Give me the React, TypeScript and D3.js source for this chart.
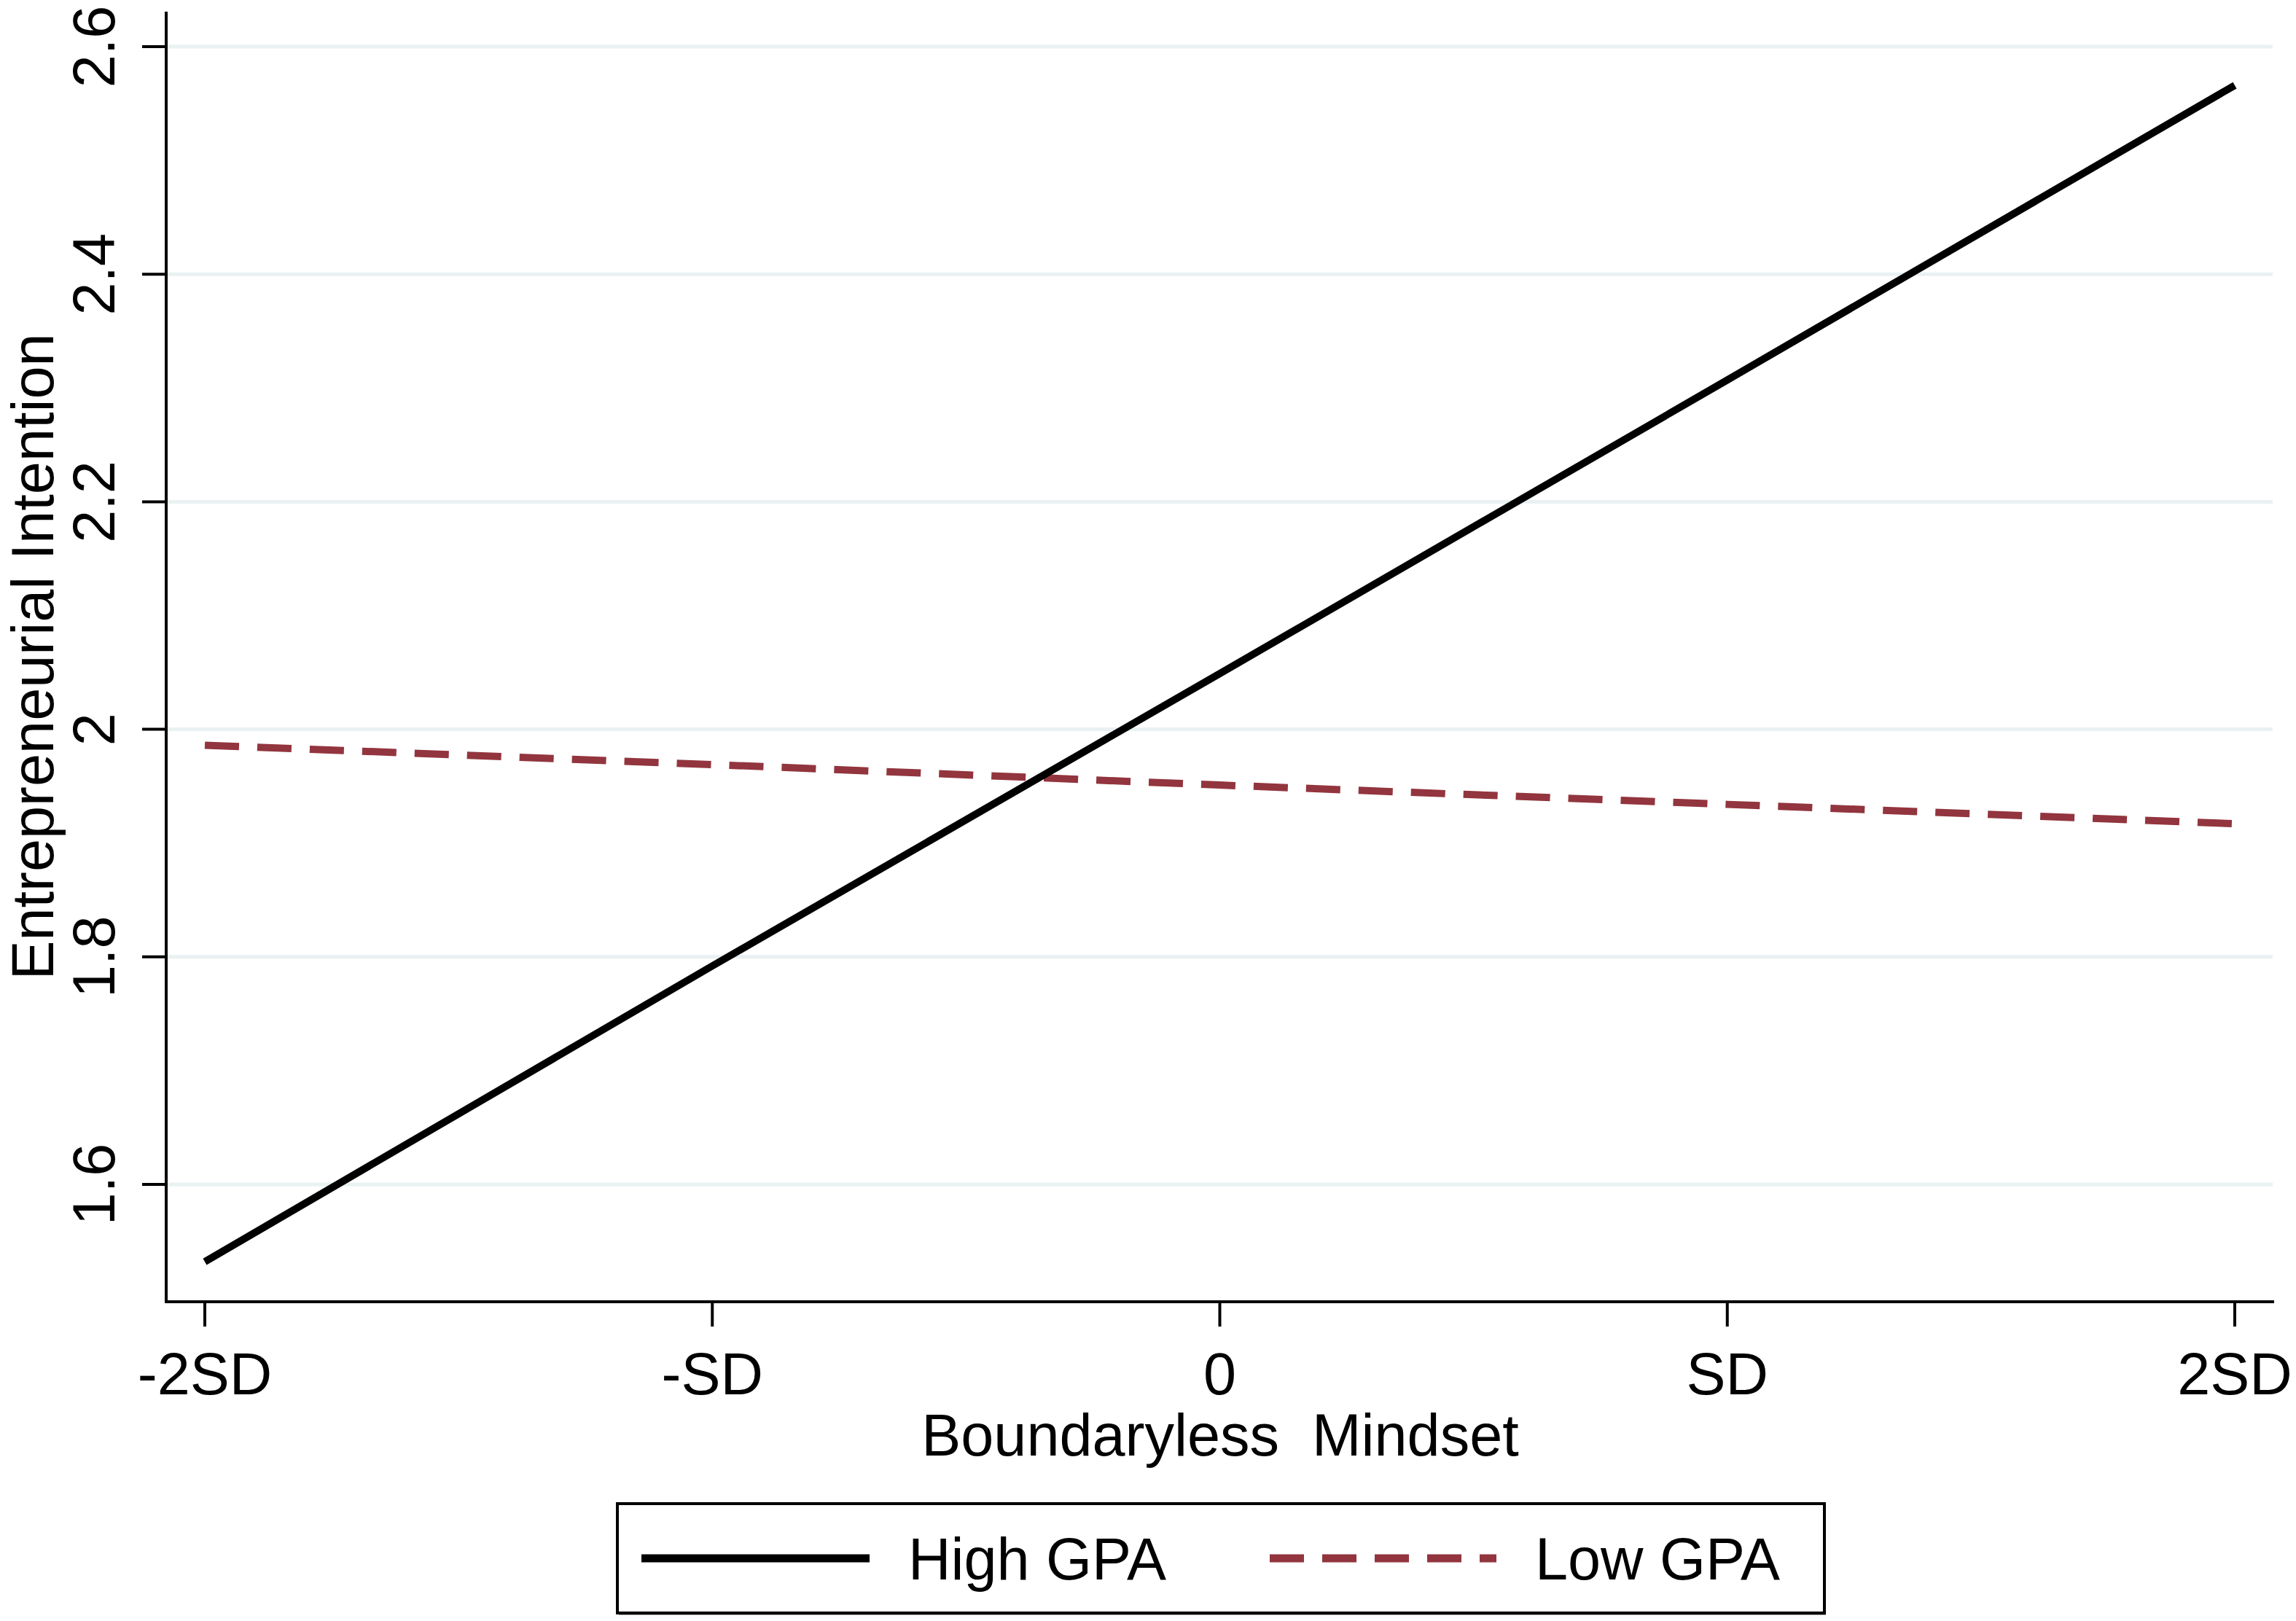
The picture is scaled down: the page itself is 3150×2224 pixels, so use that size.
import React from 'react';
import * as d3 from 'd3';

// values
const xValues = [-2, -1, 0, 1, 2];
const xLabels = ['-2SD', '-SD', '0', 'SD', '2SD'];
const highGPA = [1.532, 1.792, 2.049, 2.307, 2.566];
const lowGPA = [1.986, 1.969, 1.951, 1.934, 1.917];
const yTicks = [1.6, 1.8, 2, 2.2, 2.4, 2.6];
const seriesNames = ['High GPA', 'Low GPA'];

const W = 3150;
const H = 2224;
const FONT = '"Liberation Sans", Arial, sans-serif';
const FS = 81;
const RED = '#92353e';

const plot = { left: 228, right: 3120, top: 16, bottom: 1786 };

const App: React.FC = () => {
  const x = d3.scaleLinear().domain([-2, 2]).range([281, 3066]);
  const y = d3.scaleLinear().domain([1.6, 2.6]).range([1625, 64]);

  const line = d3.line<number>()
    .x((_d, i) => x(xValues[i]))
    .y(d => y(d));

  const legend = { x0: 847, x1: 2503, y0: 2063, y1: 2213 };
  const legY = (legend.y0 + legend.y1) / 2;

  return (
    <svg
      width={W}
      height={H}
      style={{ position: 'absolute', left: 0, top: 0, background: '#fff' }}
      fontFamily={FONT}
    >
      <rect x={0} y={0} width={W} height={H} fill="#fff" />

      {/* grid */}
      {yTicks.map(t => (
        <line key={'g' + t} x1={plot.left} x2={plot.right - 2} y1={y(t)} y2={y(t)}
          stroke="#eaf1f2" strokeWidth={5} />
      ))}

      {/* series */}
      <path d={line(lowGPA) || ''} fill="none" stroke={RED} strokeWidth={10}
        strokeDasharray="47 25" />
      <path d={line(highGPA) || ''} fill="none" stroke="#000" strokeWidth={10} />

      {/* axes */}
      <line x1={plot.left} x2={plot.left} y1={plot.top} y2={plot.bottom + 2} stroke="#000" strokeWidth={4} />
      <line x1={plot.left - 2} x2={plot.right} y1={plot.bottom} y2={plot.bottom} stroke="#000" strokeWidth={4} />

      {yTicks.map(t => (
        <g key={'y' + t}>
          <line x1={plot.left - 33} x2={plot.left} y1={y(t)} y2={y(t)} stroke="#000" strokeWidth={4} />
          <text transform={`translate(157,${y(t)}) rotate(-90)`} textAnchor="middle" fontSize={FS}>
            {String(t)}
          </text>
        </g>
      ))}

      {xValues.map((v, i) => (
        <g key={'x' + v}>
          <line x1={x(v)} x2={x(v)} y1={plot.bottom} y2={plot.bottom + 34} stroke="#000" strokeWidth={4} />
          <text x={x(v)} y={1913} textAnchor="middle" fontSize={FS}>{xLabels[i]}</text>
        </g>
      ))}

      <text x={(plot.left + plot.right) / 2} y={1997} textAnchor="middle" fontSize={FS}
        style={{ whiteSpace: 'pre' }}>
        {'Boundaryless  Mindset'}
      </text>
      <text transform={`translate(73,${(plot.top + plot.bottom) / 2}) rotate(-90)`}
        textAnchor="middle" fontSize={FS}>
        Entrepreneurial Intention
      </text>

      {/* legend */}
      <rect x={legend.x0 + 2} y={legend.y0 + 3} width={legend.x1 - legend.x0} height={legend.y1 - legend.y0}
        fill="#9a9a9a" />
      <rect x={legend.x0} y={legend.y0} width={legend.x1 - legend.x0} height={legend.y1 - legend.y0}
        fill="#fff" stroke="#000" strokeWidth={4} />
      <line x1={880} x2={1193} y1={legY} y2={legY} stroke="#000" strokeWidth={11} />
      <text x={1246} y={legY + 29} fontSize={FS}>{seriesNames[0]}</text>
      <line x1={1742} x2={2053} y1={legY} y2={legY} stroke={RED} strokeWidth={11} strokeDasharray="47 25" />
      <text x={2106} y={legY + 29} fontSize={FS}>{seriesNames[1]}</text>
    </svg>
  );
};

export default App;
